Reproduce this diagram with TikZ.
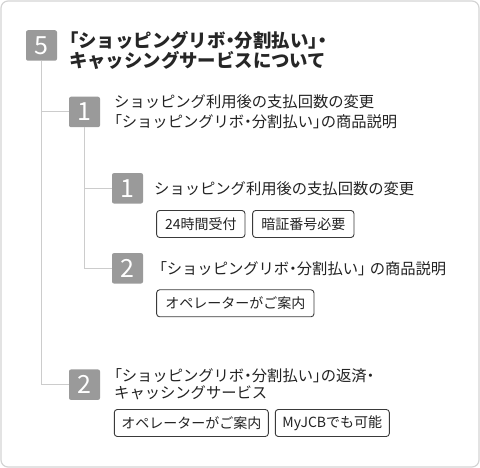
\documentclass[tikz,border=0pt]{standalone}
\usepackage{fontspec}
\setmainfont{Noto Sans CJK JP}
\newfontfamily\jpal[RawFeature=+palt]{Noto Sans CJK JP}
\newcommand{\jlb}{{\jpal 「}}
\newcommand{\jrb}{{\jpal 」}}
\newcommand{\jdot}{{\jpal ・}}
\definecolor{numgray}{HTML}{9A9A9A}
\definecolor{linegray}{HTML}{CCCCCC}
\definecolor{framegray}{HTML}{D4D4D4}
\definecolor{tagborder}{HTML}{3A3A3A}
\definecolor{textdark}{HTML}{222222}
\begin{document}
\begin{tikzpicture}[x=1pt, y=-1pt,
  numbox/.style={fill=numgray, rounded corners=2pt, minimum width=31pt, minimum height=30.5pt, inner sep=0pt, text=white, font=\fontsize{25}{25}\selectfont},
  tagbox/.style={draw=tagborder, line width=0.9pt, rounded corners=3pt, minimum height=27pt, inner sep=0pt, font=\fontsize{14}{16}\selectfont, text=textdark},
  link/.style={draw=linegray, line width=1pt},
  body/.style={font=\fontsize{15.3}{20}\selectfont, align=left, anchor=west, inner sep=0pt, text=textdark},
  titletext/.style={font=\bfseries\fontsize{18.4}{20.5}\selectfont, align=left, anchor=west, inner sep=0pt, text=black!85}
]
\useasboundingbox (0,0) rectangle (480,468);
\draw[framegray, line width=1.2pt, rounded corners=7pt] (1,1) rectangle (479,467);

\node[numbox] (n5) at (41.5,45.5) {5};
\node[numbox] (a1) at (84.5,112) {1};
\node[numbox] (b1) at (127.5,188.3) {1};
\node[numbox] (b2) at (127.5,268.3) {2};
\node[numbox] (a2) at (84.5,384.7) {2};

\node[titletext] (t5) at (69,50.3) {\jlb ショッピングリボ\jdot 分割払い\jrb\jdot\\キャッシングサービスについて};
\node[body] (ta1) at (114,112) {ショッピング利用後の支払回数の変更\\\jlb ショッピングリボ\jdot 分割払い\jrb の商品説明};
\node[body] (tb1) at (154,188.3) {ショッピング利用後の支払回数の変更};
\node[body] (tb2) at (159,268.3) {\jlb ショッピングリボ\jdot 分割払い\jrb\hspace{4pt}の商品説明};
\node[body, font=\fontsize{15.3}{17}\selectfont] (ta2) at (114,384.7) {\jlb ショッピングリボ\jdot 分割払い\jrb の返済\jdot\\キャッシングサービス};

\draw[link] (n5.south) |- (a2.west);
\draw[link] (n5.south |- a1.west) -- (a1.west);
\draw[link] (a1.south) |- (b2.west);
\draw[link] (a1.south |- b1.west) -- (b1.west);

\node[tagbox, minimum width=88.3pt] (g1) at (200.8,224) {24時間受付};
\node[tagbox, minimum width=101.3pt] (g2) at (303.3,224) {暗証番号必要};
\node[tagbox, minimum width=157.3pt] (g3) at (235.3,303.3) {オペレーターがご案内};
\node[tagbox, minimum width=154pt] (g4) at (191.3,423) {オペレーターがご案内};
\node[tagbox, minimum width=114pt] (g5) at (332.3,423) {MyJCBでも可能};
\end{tikzpicture}
\end{document}
